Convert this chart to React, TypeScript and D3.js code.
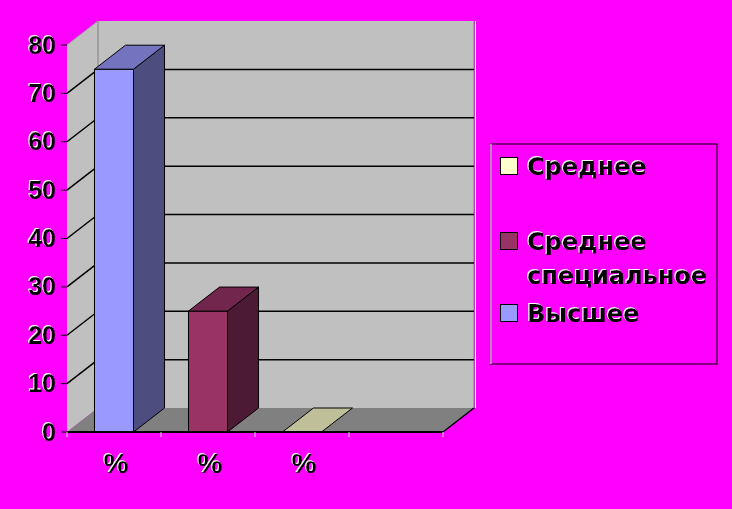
import React from "react";
import * as d3 from "d3";

// Chart data
const categories = ["%", "%", "%", ""];
const seriesNames = ["Высшее", "Среднее специальное", "Среднее"];
const seriesValues = [75, 25, 0];
const yTicks = [0, 10, 20, 30, 40, 50, 60, 70, 80];
const legendOrder = [2, 1, 0]; // legend lists series in reverse
const legendLines = [["Среднее"], ["Среднее", "специальное"], ["Высшее"]];

const seriesColors = ["#9999FF", "#993366", "#FFFFCC"];

const W = 732;
const H = 509;
const DX = 31; // depth offset of the 3D box
const DY = -24;

function shade(c: string, k: number) {
  const col = d3.rgb(c);
  return d3.rgb(col.r * k, col.g * k, col.b * k).formatHex();
}

function EmbossText(props: {
  x: number;
  y: number;
  anchor?: string;
  size: number;
  family: string;
  children: React.ReactNode;
}) {
  const { x, y, anchor = "start", size, family, children } = props;
  return (
    <text
      x={x}
      y={y}
      fill="#000000"
      textAnchor={anchor as any}
      fontSize={size}
      fontFamily={family}
      fontWeight="bold"
      filter="url(#emboss)"
    >
      {children}
    </text>
  );
}

export default function App() {
  const x = d3
    .scaleBand<number>()
    .domain(d3.range(categories.length))
    .range([67, 443])
    .paddingInner(0)
    .paddingOuter(0);
  const y = d3.scaleLinear().domain([0, 80]).range([432, 45]);

  const x0 = x.range()[0];
  const x1 = x.range()[1];
  const yBase = y(0);
  const yTop = y(80);

  const barW = x.bandwidth() * 0.415;

  const pts = (arr: [number, number][]) => arr.map((p) => p.join(",")).join(" ");

  return (
    <svg
      width={W}
      height={H}
      style={{ position: "absolute", left: 0, top: 0, display: "block" }}
    >
      <defs>
        {/* white highlight offset up-left under black glyphs */}
        <filter id="emboss" x="-20%" y="-20%" width="140%" height="140%">
          <feOffset in="SourceAlpha" dx={-1.5} dy={-1.5} result="off" />
          <feFlood floodColor="#FFFFFF" result="white" />
          <feComposite in="white" in2="off" operator="in" result="hl" />
          <feMerge>
            <feMergeNode in="hl" />
            <feMergeNode in="SourceGraphic" />
          </feMerge>
        </filter>
      </defs>
      <rect x={0} y={0} width={W} height={H} fill="#FF00FF" />

      {/* left side wall */}
      <polygon
        points={pts([
          [x0, yBase],
          [x0, yTop],
          [x0 + DX, yTop + DY],
          [x0 + DX, yBase + DY],
        ])}
        fill="#C0C0C0"
      />
      {/* back wall */}
      <rect
        x={x0 + DX}
        y={yTop + DY}
        width={x1 - x0}
        height={yBase - yTop}
        fill="#C0C0C0"
      />
      <line x1={x0 + DX} y1={yTop + DY} x2={x0 + DX} y2={yBase + DY} stroke="#808080" strokeWidth={1} />
      <line x1={x0} y1={yTop} x2={x0 + DX} y2={yTop + DY} stroke="#A0A0A0" strokeWidth={1} />
      <line x1={x1 + DX} y1={yTop + DY} x2={x1 + DX} y2={yBase + DY} stroke="#808080" strokeWidth={1} />
      <line x1={x1 + DX + 1.5} y1={yTop + DY} x2={x1 + DX + 1.5} y2={yBase + DY} stroke="#FFFFFF" strokeWidth={1} />

      {/* gridlines */}
      {yTicks
        .filter((t) => t > 0 && t < 80)
        .map((t) => (
          <g key={t}>
            <line x1={x0} y1={y(t)} x2={x0 + DX} y2={y(t) + DY} stroke="#000" strokeWidth={1.5} />
            <line x1={x0 + DX} y1={y(t) + DY} x2={x1 + DX} y2={y(t) + DY} stroke="#000" strokeWidth={1.5} />
          </g>
        ))}

      {/* floor */}
      <polygon
        points={pts([
          [x0, yBase],
          [x1, yBase],
          [x1 + DX, yBase + DY],
          [x0 + DX, yBase + DY],
        ])}
        fill="#808080"
      />

      {/* bars */}
      {seriesValues.map((v, i) => {
        const bx = (x(i) as number) + (x.bandwidth() - barW) / 2;
        const top = y(v);
        const c = seriesColors[i];
        return (
          <g key={i} stroke="#000" strokeWidth={1} strokeLinejoin="round">
            {v > 0 && (
              <rect x={bx} y={top} width={barW} height={yBase - top} fill={c} />
            )}
            {v > 0 && (
              <polygon
                points={pts([
                  [bx + barW, yBase],
                  [bx + barW, top],
                  [bx + barW + DX, top + DY],
                  [bx + barW + DX, yBase + DY],
                ])}
                fill={shade(c, 0.5)}
              />
            )}
            <polygon
              points={pts([
                [bx, top],
                [bx + barW, top],
                [bx + barW + DX, top + DY],
                [bx + DX, top + DY],
              ])}
              fill={shade(c, 0.75)}
            />
          </g>
        );
      })}

      {/* floor front edges */}
      <line x1={x0} y1={yBase} x2={x1} y2={yBase} stroke="#000" strokeWidth={2} />
      <line x1={x1} y1={yBase} x2={x1 + DX} y2={yBase + DY} stroke="#000" strokeWidth={1.5} />

      {/* y axis ticks and labels */}
      {yTicks.map((t) => (
        <g key={t}>
          <line x1={x0 - 6} y1={y(t)} x2={x0} y2={y(t)} stroke="#000" strokeWidth={1} />
          <EmbossText x={56} y={y(t) + 8.5} anchor="end" size={25} family="'Liberation Sans', Arial, sans-serif">
            {t}
          </EmbossText>
        </g>
      ))}

      {/* x axis ticks and labels */}
      {d3.range(categories.length + 1).map((i) => {
        const tx = i < categories.length ? (x(i) as number) : x1;
        return <line key={i} x1={tx} y1={yBase} x2={tx} y2={yBase + 5} stroke="#E0E0E0" strokeWidth={1} />;
      })}
      {categories.map((c, i) =>
        c ? (
          <EmbossText
            key={i}
            x={(x(i) as number) + x.bandwidth() / 2 + 2}
            y={473}
            anchor="middle"
            size={28}
            family="'Liberation Sans', Arial, sans-serif"
          >
            {c}
          </EmbossText>
        ) : null
      )}

      {/* legend */}
      <rect x={491} y={144} width={226} height={220} fill="#FF00FF" stroke="#000" strokeWidth={1} />
      <line x1={491} y1={144} x2={491} y2={364} stroke="#FFFFFF" strokeWidth={1} />
      {legendOrder.map((si, k) => {
        const rowY = [157, 232, 304][k];
        return (
          <g key={si}>
            <rect x={500.5} y={rowY + 0.5} width={17} height={17} fill={seriesColors[si]} stroke="#000" strokeWidth={1} />
            {legendLines[k].map((ln, j) => (
              <EmbossText
                key={j}
                x={527}
                y={rowY + 17.5 + j * 34}
                size={24}
                family="'DejaVu Sans', Verdana, sans-serif"
              >
                {ln}
              </EmbossText>
            ))}
          </g>
        );
      })}
      <title>{seriesNames.join(", ")}</title>
    </svg>
  );
}
